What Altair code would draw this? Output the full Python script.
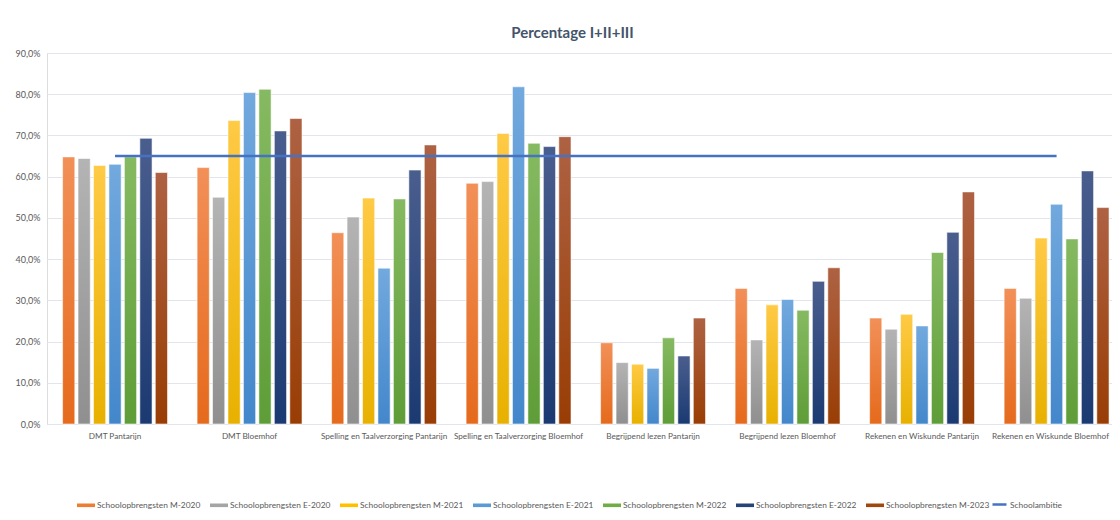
import altair as alt
import pandas as pd

categories = [
    "DMT Pantarijn",
    "DMT Bloemhof",
    "Spelling en Taalverzorging Pantarijn",
    "Spelling en Taalverzorging Bloemhof",
    "Begrijpend lezen Pantarijn",
    "Begrijpend lezen Bloemhof",
    "Rekenen en Wiskunde Pantarijn",
    "Rekenen en Wiskunde Bloemhof",
]
series = [
    "Schoolopbrengsten M-2020",
    "Schoolopbrengsten E-2020",
    "Schoolopbrengsten M-2021",
    "Schoolopbrengsten E-2021",
    "Schoolopbrengsten M-2022",
    "Schoolopbrengsten E-2022",
    "Schoolopbrengsten M-2023",
]
m2020 = [64.8, 62.2, 46.4, 58.4, 19.7, 32.9, 25.7, 32.9]
e2020 = [64.4, 55.0, 50.2, 58.8, 14.9, 20.4, 23.0, 30.5]
m2021 = [62.7, 73.6, 54.8, 70.5, 14.5, 28.9, 26.6, 45.1]
e2021 = [63.0, 80.4, 37.8, 81.8, 13.5, 30.2, 23.8, 53.3]
m2022 = [64.8, 81.2, 54.6, 68.1, 20.9, 27.6, 41.6, 44.9]
e2022 = [69.3, 71.1, 61.6, 67.3, 16.5, 34.6, 46.5, 61.4]
m2023 = [61.0, 74.1, 67.7, 69.7, 25.7, 37.9, 56.3, 52.5]
ambitie_name = "Schoolambitie"
ambitie = [65.0] * 8

colors = ["#ED7D31", "#A5A5A5", "#FFC000", "#5B9BD5", "#70AD47", "#264478", "#9E480E"]
tops = ["#F29058", "#B4B4B4", "#FFCA45", "#72A9DE", "#86BA62", "#4A5E8E", "#AE6243"]
bottoms = ["#E56A1C", "#8F8F8F", "#E8B100", "#4387CB", "#5E9D37", "#1B3A72", "#993D04"]

values = [m2020, e2020, m2021, e2021, m2022, e2022, m2023]
rows = []
for s, vals in zip(series, values):
    for c, v in zip(categories, vals):
        rows.append({"category": c, "series": s, "value": v})
df = pd.DataFrame(rows)
line_df = pd.DataFrame({"category": categories, "value": ambitie, "name": ambitie_name})

FONT = "Lato"
TXT = "#595959"
GRID = "#E3E5EC"

x_enc = alt.X(
    "category:N",
    sort=categories,
    scale=alt.Scale(domain=categories, paddingInner=0.22, paddingOuter=0.069, align=0.84),
    axis=alt.Axis(
        title=None, labelAngle=0, ticks=False, labelPadding=8, labelOverlap=False,
        labelLimit=300, labelFont=FONT, labelFontSize=8.2, labelColor=TXT,
        domainColor=GRID, domainWidth=1.2, grid=False,
        labelOffset={"condition": {"test": "datum.index === 1", "value": -6}, "value": 0},
    ),
)
y_enc = alt.Y(
    "value:Q",
    scale=alt.Scale(domain=[0, 90], nice=False),
    axis=alt.Axis(
        title=None, values=list(range(0, 91, 10)), ticks=False, domain=False,
        labelPadding=7, labelFont=FONT, labelFontSize=9, labelColor=TXT,
        gridColor=GRID, gridWidth=1.2,
        labelExpr="replace(format(datum.value, '.1f'), '.', ',') + '%'",
    ),
)
xo_enc = alt.XOffset("series:N", sort=series,
                     scale=alt.Scale(domain=series, paddingInner=0.21, paddingOuter=0))

base = alt.Chart(df)
layers = []
for s, t, b in zip(series, tops, bottoms):
    grad = alt.Gradient(
        gradient="linear", x1=0, x2=0, y1=0, y2=1,
        stops=[alt.GradientStop(offset=0, color=t), alt.GradientStop(offset=1, color=b)],
    )
    layers.append(
        base.transform_filter(alt.datum.series == s)
        .mark_bar(color=grad, stroke="white", strokeWidth=0.8, strokeOpacity=0.7)
        .encode(x=x_enc, y=y_enc, xOffset=xo_enc)
    )

legend_layer = base.mark_bar(opacity=0).encode(
    x=x_enc, y=y_enc, xOffset=xo_enc,
    color=alt.Color(
        "series:N", sort=series,
        scale=alt.Scale(domain=series, range=colors),
        legend=alt.Legend(
            title=None, orient="none", legendX=30, legendY=443, direction="horizontal",
            columns=7, symbolType="M-1,-0.2H1V0.2H-1Z", symbolSize=324,
            symbolOpacity=1, symbolStrokeWidth=0, labelFont=FONT, labelFontSize=8.4,
            labelColor=TXT, columnPadding=9, labelOffset=2, labelLimit=200,
        ),
    ),
)

line_layer = alt.Chart(line_df).mark_line(strokeWidth=2.5).encode(
    x=x_enc, y=y_enc,
    stroke=alt.Stroke(
        "name:N",
        scale=alt.Scale(domain=[ambitie_name], range=["#4472C4"]),
        legend=alt.Legend(
            title=None, orient="none", legendX=944, legendY=443, direction="horizontal",
            symbolType="stroke", symbolSize=196, symbolStrokeWidth=2.5,
            labelFont=FONT, labelFontSize=8.4, labelColor=TXT, labelOffset=2,
        ),
    ),
)

chart = alt.layer(*layers, legend_layer, line_layer).properties(
    width=1065,
    height=371,
    title=alt.TitleParams(
        "Percentage I+II+III", font=FONT, fontSize=15, fontWeight="bold",
        color="#44546A", anchor="middle", offset=8, dx=-7,
    ),
    autosize=alt.AutoSizeParams(type="none"),
    padding={"left": 39, "top": 45, "right": 0, "bottom": 88},
).configure_view(stroke=None).configure(background="white")

chart.save("out.html", embed_options={"renderer": "svg", "actions": False})
